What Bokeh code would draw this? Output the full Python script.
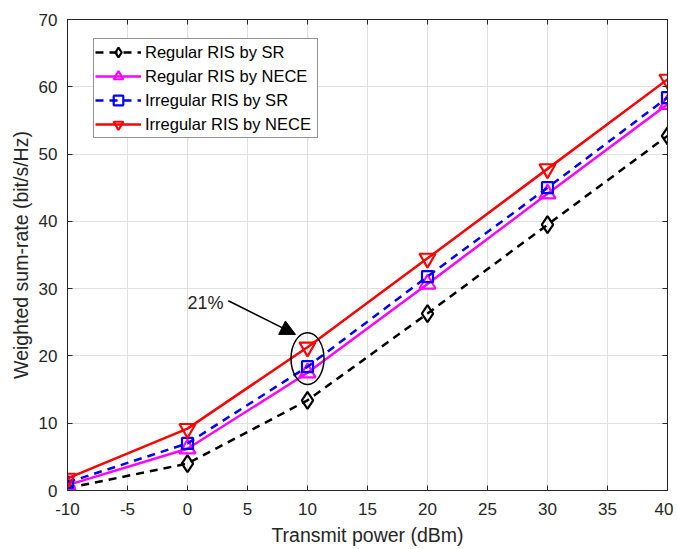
from bokeh.plotting import figure
from bokeh.models import (Range1d, LinearAxis, FixedTicker, Legend, LegendItem,
                          Arrow, NormalHead, Label, Ellipse, ColumnDataSource)
from bokeh.embed import file_html
from bokeh.resources import INLINE

power = [-10, 0, 10, 20, 30, 40]
reg_sr = [0.35, 4.0, 13.4, 26.3, 39.5, 52.7]
reg_nece = [0.8, 6.2, 17.5, 30.7, 44.1, 57.4]
irr_sr = [1.2, 7.0, 18.4, 31.8, 45.0, 58.4]
irr_nece = [1.8, 9.2, 21.3, 34.5, 47.8, 61.1]
x_ticks = [-10, -5, 0, 5, 10, 15, 20, 25, 30, 35, 40]
y_ticks = [0, 10, 20, 30, 40, 50, 60, 70]

FONT = "Liberation Sans"
AX = "#262626"

p = figure(frame_width=600, frame_height=471,
           x_range=Range1d(-10, 40), y_range=Range1d(0, 70),
           output_backend="svg", toolbar_location=None,
           min_border_left=67, min_border_top=19, min_border_right=6, min_border_bottom=50)
p.background_fill_color = "white"
p.outline_line_color = AX
p.outline_line_width = 1

for ax in (p.xaxis[0], p.yaxis[0]):
    ax.major_tick_in = 5
    ax.major_tick_out = 0
    ax.minor_tick_line_color = None
    ax.axis_line_color = AX
    ax.major_tick_line_color = AX
    ax.major_label_text_font = FONT
    ax.major_label_text_font_size = "17px"
    ax.major_label_text_color = AX
    ax.axis_label_text_font = FONT
    ax.axis_label_text_font_size = "19.5px"
    ax.axis_label_text_font_style = "normal"
    ax.axis_label_text_color = AX
p.xaxis[0].ticker = FixedTicker(ticks=x_ticks)
p.yaxis[0].ticker = FixedTicker(ticks=y_ticks)
p.xaxis[0].major_label_overrides = {t: str(t) for t in x_ticks}
p.yaxis[0].major_label_overrides = {t: str(t) for t in y_ticks}
p.xaxis[0].axis_label = "Transmit power (dBm)"
p.yaxis[0].axis_label = "Weighted sum-rate (bit/s/Hz)"
p.xaxis[0].axis_label_standoff = 6
p.yaxis[0].axis_label_standoff = 4
p.xaxis[0].major_label_standoff = 12
p.yaxis[0].major_label_standoff = 10

top = LinearAxis(ticker=FixedTicker(ticks=x_ticks), major_label_text_font_size="0px",
                 major_label_standoff=0,
                 major_tick_in=5, major_tick_out=0, minor_tick_line_color=None,
                 axis_line_color=AX, major_tick_line_color=AX)
right = LinearAxis(ticker=FixedTicker(ticks=y_ticks), major_label_text_font_size="0px",
                   major_label_standoff=0,
                   major_tick_in=5, major_tick_out=0, minor_tick_line_color=None,
                   axis_line_color=AX, major_tick_line_color=AX)
p.add_layout(top, "above")
p.add_layout(right, "right")

p.xgrid.ticker = FixedTicker(ticks=x_ticks)
p.ygrid.ticker = FixedTicker(ticks=y_ticks)
p.grid.grid_line_color = "#e0e0e0"
p.grid.grid_line_width = 1

items = []
series = [
    ("Regular RIS by SR", reg_sr, "black", "8 6", "diamond", 17),
    ("Regular RIS by NECE", reg_nece, "#ff00ff", "solid", "triangle", 16),
    ("Irregular RIS by SR", irr_sr, "blue", "8 6", "square", 11),
    ("Irregular RIS by NECE", irr_nece, "red", "solid", "inverted_triangle", 16),
]
for name, ys, col, dash, mk, sz in series:
    l = p.line(power, ys, line_color=col, line_width=2.5, line_dash=dash)
    m = p.scatter(power, ys, marker=mk, size=sz, line_color=col, line_width=2.2,
                  fill_color=None)
    items.append(LegendItem(label=name, renderers=[l, m]))

legend = Legend(items=items, location=(26, 352), label_text_font=FONT,
                label_text_font_size="16.5px", label_text_color="black",
                border_line_color=AX, border_line_width=1,
                background_fill_color="white", background_fill_alpha=1.0,
                glyph_width=46, glyph_height=24, label_height=24, label_width=171,
                spacing=0, padding=1, margin=0, label_standoff=4)
p.add_layout(legend)

# annotation
p.add_glyph(ColumnDataSource(dict(x=[10.0], y=[19.6], w=[2.75], h=[7.7])),
            Ellipse(x="x", y="y", width="w", height="h", fill_color=None,
                    line_color="black", line_width=1.5))
p.add_layout(Arrow(end=NormalHead(size=15, fill_color="black", line_color="black"),
                   x_start=3.4, y_start=28.2, x_end=9.0, y_end=23.2,
                   line_color="black", line_width=1.5))
p.add_layout(Label(x=0.0, y=27.9, text="21%", text_font=FONT, text_font_size="18px",
                   text_baseline="middle", text_color=AX))

open("out.html", "w").write(file_html(p, INLINE))
